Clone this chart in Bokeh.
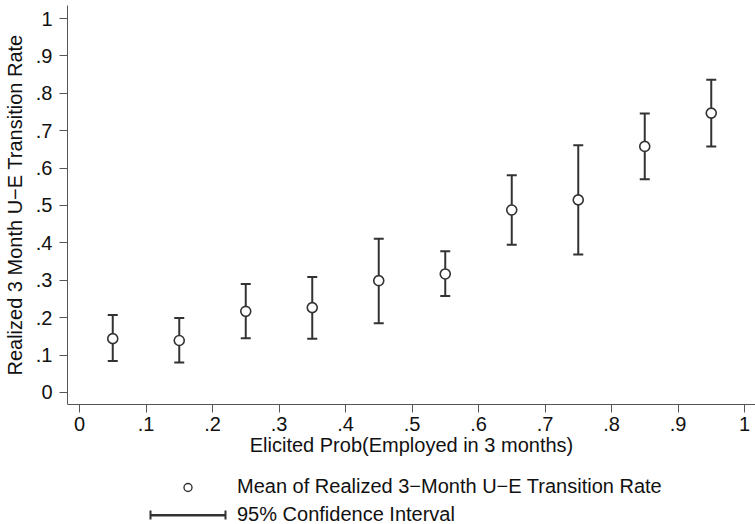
from bokeh.plotting import figure
from bokeh.layouts import column
from bokeh.models import (ColumnDataSource, FixedTicker, Legend, LegendItem, Whisker,
                          Range1d, TeeHead, Arrow)
from bokeh.embed import file_html
from bokeh.resources import INLINE

# ---- data ----
prob_bins = [0.05, 0.15, 0.25, 0.35, 0.45, 0.55, 0.65, 0.75, 0.85, 0.95]
mean_rate = [0.144, 0.139, 0.217, 0.227, 0.299, 0.317, 0.488, 0.515, 0.658, 0.747]
ci_lower = [0.084, 0.080, 0.145, 0.144, 0.185, 0.258, 0.395, 0.369, 0.570, 0.658]
ci_upper = [0.207, 0.199, 0.290, 0.309, 0.411, 0.378, 0.581, 0.661, 0.746, 0.836]

x_ticks = [0, 0.1, 0.2, 0.3, 0.4, 0.5, 0.6, 0.7, 0.8, 0.9, 1.0]
x_tick_labels = ["0", ".1", ".2", ".3", ".4", ".5", ".6", ".7", ".8", ".9", "1"]
y_ticks = [0, 0.1, 0.2, 0.3, 0.4, 0.5, 0.6, 0.7, 0.8, 0.9, 1.0]
y_tick_labels = ["0", ".1", ".2", ".3", ".4", ".5", ".6", ".7", ".8", ".9", "1"]

x_title = "Elicited Prob(Employed in 3 months)"
y_title = "Realized 3 Month U\u2212E Transition Rate"
legend_mean = "Mean of Realized 3\u2212Month U\u2212E Transition Rate"
legend_ci = "95% Confidence Interval"

FONT = "Liberation Sans"
FS = "20px"
TXT = "#111111"
BAR = "#333333"
AXIS = "#555555"
W = 755
LEFT = 67

src = ColumnDataSource(dict(x=prob_bins, y=mean_rate, lo=ci_lower, hi=ci_upper))

p = figure(width=W, height=464, output_backend="svg", toolbar_location=None,
           x_range=Range1d(-0.01805, 1.01654), y_range=Range1d(-0.03209, 1.03476),
           min_border_left=LEFT, min_border_right=0, min_border_top=5, min_border_bottom=60)
p.outline_line_color = None
p.xgrid.visible = False
p.ygrid.visible = False

# error bar stems
stems = p.segment(x0="x", y0="lo", x1="x", y1="hi", source=src,
                  line_color=BAR, line_width=2)
# caps
caps = Whisker(base="x", lower="lo", upper="hi", source=src, dimension="height",
               line_alpha=0,
               upper_head=TeeHead(size=10, line_color=BAR, line_width=2),
               lower_head=TeeHead(size=10, line_color=BAR, line_width=2))
p.add_layout(caps)
# means
pts = p.scatter(x="x", y="y", source=src, marker="circle", size=10,
                fill_color="white", line_color=BAR, line_width=1.6)

for ax, ticks, labels in ((p.xaxis[0], x_ticks, x_tick_labels), (p.yaxis[0], y_ticks, y_tick_labels)):
    ax.ticker = FixedTicker(ticks=ticks)
    ax.major_label_overrides = {t: l for t, l in zip(ticks, labels)}
    ax.minor_tick_line_color = None
    ax.major_tick_in = 0
    ax.major_tick_out = 8
    ax.axis_line_color = AXIS
    ax.major_tick_line_color = AXIS
    ax.major_label_text_font = FONT
    ax.major_label_text_font_size = FS
    ax.major_label_text_color = TXT
    ax.axis_label_text_font = FONT
    ax.axis_label_text_font_size = FS
    ax.axis_label_text_font_style = "normal"
    ax.axis_label_text_color = TXT

p.xaxis.axis_label = x_title
p.yaxis.axis_label = y_title
p.xaxis.major_label_standoff = 4
p.xaxis.axis_label_standoff = 0
p.yaxis.major_label_standoff = 7
p.yaxis.major_label_orientation = "horizontal"
p.yaxis.axis_label_standoff = 7

# ---- legend panel (own figure; its ranges keep the key renderers' data out of view) ----
LEG_H = 60
pl = figure(width=W, height=LEG_H, output_backend="svg", toolbar_location=None,
            x_axis_type=None, y_axis_type=None, x_range=Range1d(10, 11), y_range=Range1d(10, 11),
            min_border_left=LEFT, min_border_right=0, min_border_top=0, min_border_bottom=0)
pl.outline_line_color = None
pl.xgrid.visible = False
pl.ygrid.visible = False
key_pts = pl.scatter(x="x", y="y", source=src, marker="circle", size=10, fill_color="white",
                     line_color=BAR, line_width=1.4)
key_ci = pl.segment(x0="x", y0="lo", x1="x", y1="hi", source=src, line_color=BAR, line_width=2)

# positions in px relative to the legend panel's frame (left edge at LEFT, y up from bottom)
LEG_X, LEG_BOTTOM, ROW_H, ROW_GAP, GLYPH_W = 150 - LEFT, -2, 20, 5, 75
legend = Legend(items=[LegendItem(label=legend_mean, renderers=[key_pts], index=0),
                       LegendItem(label=legend_ci, renderers=[key_ci], index=0)],
                location=(LEG_X, LEG_BOTTOM), orientation="vertical",
                glyph_width=GLYPH_W, glyph_height=ROW_H, label_height=ROW_H,
                label_standoff=12, spacing=ROW_GAP,
                padding=0, margin=0, border_line_color=None, background_fill_alpha=0,
                label_text_font=FONT, label_text_font_size=FS, label_text_color=TXT)
pl.add_layout(legend)

ci_key_y = LEG_BOTTOM + 11.5
pl.add_layout(Arrow(x_start=LEG_X, y_start=ci_key_y, x_end=LEG_X + GLYPH_W, y_end=ci_key_y,
                    start_units="screen", end_units="screen", line_color=BAR, line_width=2,
                    start=TeeHead(size=9, line_color=BAR, line_width=2),
                    end=TeeHead(size=9, line_color=BAR, line_width=2)))

layout = column(p, pl, spacing=0)
open("out.html", "w").write(file_html(layout, INLINE))
